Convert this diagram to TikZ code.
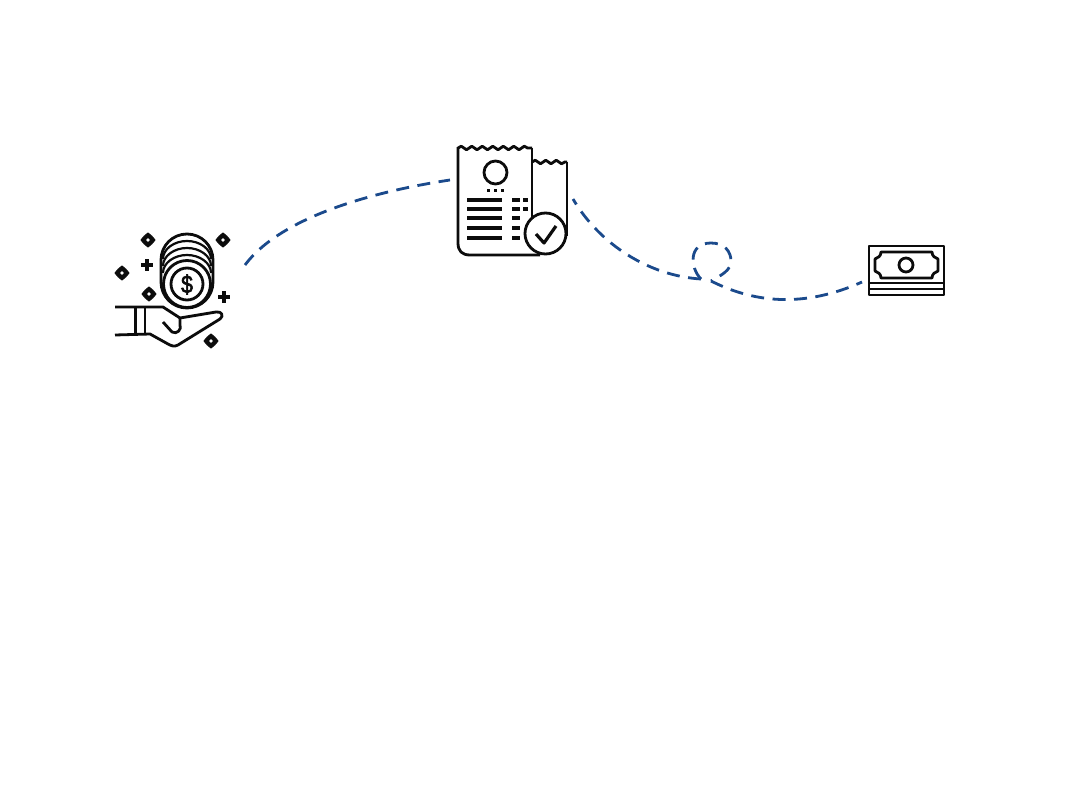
\documentclass[tikz,border=0pt]{standalone}
\usepackage{fontspec}
\setmainfont{Liberation Sans}
\newfontfamily\dollarfont[FakeBold=2.5]{Liberation Sans}
\usetikzlibrary{decorations.pathmorphing}
\definecolor{flow}{HTML}{1B4A8C}
\definecolor{ink}{HTML}{0C0C0C}
\tikzset{
  flowline/.style={draw=flow,line width=2.8pt,dash pattern=on 13pt off 8.5pt},
  icon/.style={draw=ink,line width=2.8pt,line join=round},
  thin icon/.style={draw=ink,line width=2.2pt,line join=round},
  bar/.style={draw=ink,line width=3.4pt},
  wavy/.style={decorate,decoration={snake,segment length=10.5pt,amplitude=1.8pt}},
}
\newcommand{\sparkle}[2]{%
  \fill[ink,draw=ink,line width=1pt,line join=round] (#1-7,#2) -- (#1-3.8,#2-3.8) -- (#1,#2-7) -- (#1+3.8,#2-3.8) -- (#1+7,#2) -- (#1+3.8,#2+3.8) -- (#1,#2+7) -- (#1-3.8,#2+3.8) -- cycle;
  \fill[white] (#1,#2) circle (1.8pt);}
\newcommand{\plusmark}[2]{%
  \draw[ink,line width=3.2pt] (#1-6,#2) -- (#1+6,#2) (#1,#2-6) -- (#1,#2+6);}
\newcommand{\coinarc}[1]{%
  \draw[thin icon] (163,#1+18) .. controls (163,#1+8) and (174,#1) .. (187,#1) .. controls (200,#1) and (211,#1+8) .. (211,#1+18);}
\begin{document}
\begin{tikzpicture}[x=1pt,y=-1pt]
\useasboundingbox (0,0) rectangle (1080,800);
\fill[white] (0,0) rectangle (1080,800);

% connectors
\coordinate (hand) at (245,265);
\coordinate (receiptL) at (450,180);
\coordinate (receiptR) at (573,199);
\coordinate (cornerA) at (701,279);
\coordinate (cornerB) at (711,281);
\coordinate (money) at (862,282);
\draw[flowline] (hand) .. controls (280,218) and (370,192) .. (receiptL);
\draw[flowline] (cornerA) .. controls (650,276) and (600,245) .. (receiptR);
\draw[flowline] (cornerA) .. controls (690,268) and (688,243) .. (711,243)
   .. controls (725,243) and (731,252) .. (731,261) .. controls (731,270) and (722,275) .. (cornerB);
\draw[flowline] (cornerB) .. controls (745,298) and (795,312) .. (money);

% coins in hand
\draw[icon] (161,260) .. controls (161,245.6) and (172.6,234) .. (187,234) .. controls (201.4,234) and (213,245.6) .. (213,260)
   -- (213,282) .. controls (213,296.4) and (201.4,308) .. (187,308) .. controls (172.6,308) and (161,296.4) .. (161,282) -- cycle;
\coinarc{241}
\coinarc{248}
\coinarc{255}
\fill[white] (187,284) circle (23pt);
\draw[icon] (187,284) circle (23.5pt);
\draw[icon] (187,284) circle (16pt);
\node[text=ink,font=\dollarfont\fontsize{25}{25}\selectfont,inner sep=0pt,xscale=0.85] (dollar) at (187,284.5) {\$};
\sparkle{148}{240}
\sparkle{223}{240}
\sparkle{122}{273}
\sparkle{149}{294}
\sparkle{211}{341}
\plusmark{147}{265}
\plusmark{224}{297}
\draw[icon] (115,307) -- (163,307) -- (180,318) -- (216,312) .. controls (222,311) and (224,316) .. (220,319) -- (178,345) .. controls (174,347) and (172,346) .. (168,344) -- (150,334) -- (115,335);
\draw[icon] (163,322) -- (172,332) .. controls (177,335) and (182,329) .. (180,325) -- (180,318);
\draw[thin icon] (135.5,307) -- (135.5,335) (145,307) -- (145,335);

% receipt
\draw[icon,wavy] (458,148) -- (532,148);
\draw[icon] (458,147) -- (458,243) .. controls (458,251) and (462,255) .. (470,255) -- (540,255);
\draw[icon] (532,148) -- (532,220);
\draw[icon,wavy] (532,162) -- (567,162);
\draw[icon] (567,162) -- (567,236);
\draw[icon] (495.5,172.5) circle (11.5pt);
\draw[bar] (487,190.5) -- (490,190.5) (494,190.5) -- (497,190.5) (501,190.5) -- (504,190.5);
\foreach \yy in {200,209,218,228,238} \draw[bar] (467,\yy) -- (502,\yy);
\foreach \yy in {200,209} \draw[bar] (512,\yy) -- (520,\yy) (523,\yy) -- (528,\yy);
\foreach \yy in {218,228,238} \draw[bar] (512,\yy) -- (520,\yy);
\fill[white] (545.5,233.5) circle (21pt);
\draw[icon] (545.5,233.5) circle (20.5pt);
\draw[icon,line width=3.2pt] (536,234) -- (544,243) -- (556,226);

% banknotes
\draw[icon] (869,246) rectangle (944,295);
\draw[thin icon] (869,283) -- (944,283) (869,289) -- (944,289);
\draw[icon] (881,252) -- (932,252) .. controls (932,256) and (935,258) .. (938,259) -- (938,271) .. controls (935,272) and (932,274) .. (932,278) -- (881,278) .. controls (881,274) and (878,272) .. (875,271) -- (875,259) .. controls (878,258) and (881,256) .. (881,252) -- cycle;
\draw[icon] (906,265) circle (7pt);
\end{tikzpicture}
\end{document}
